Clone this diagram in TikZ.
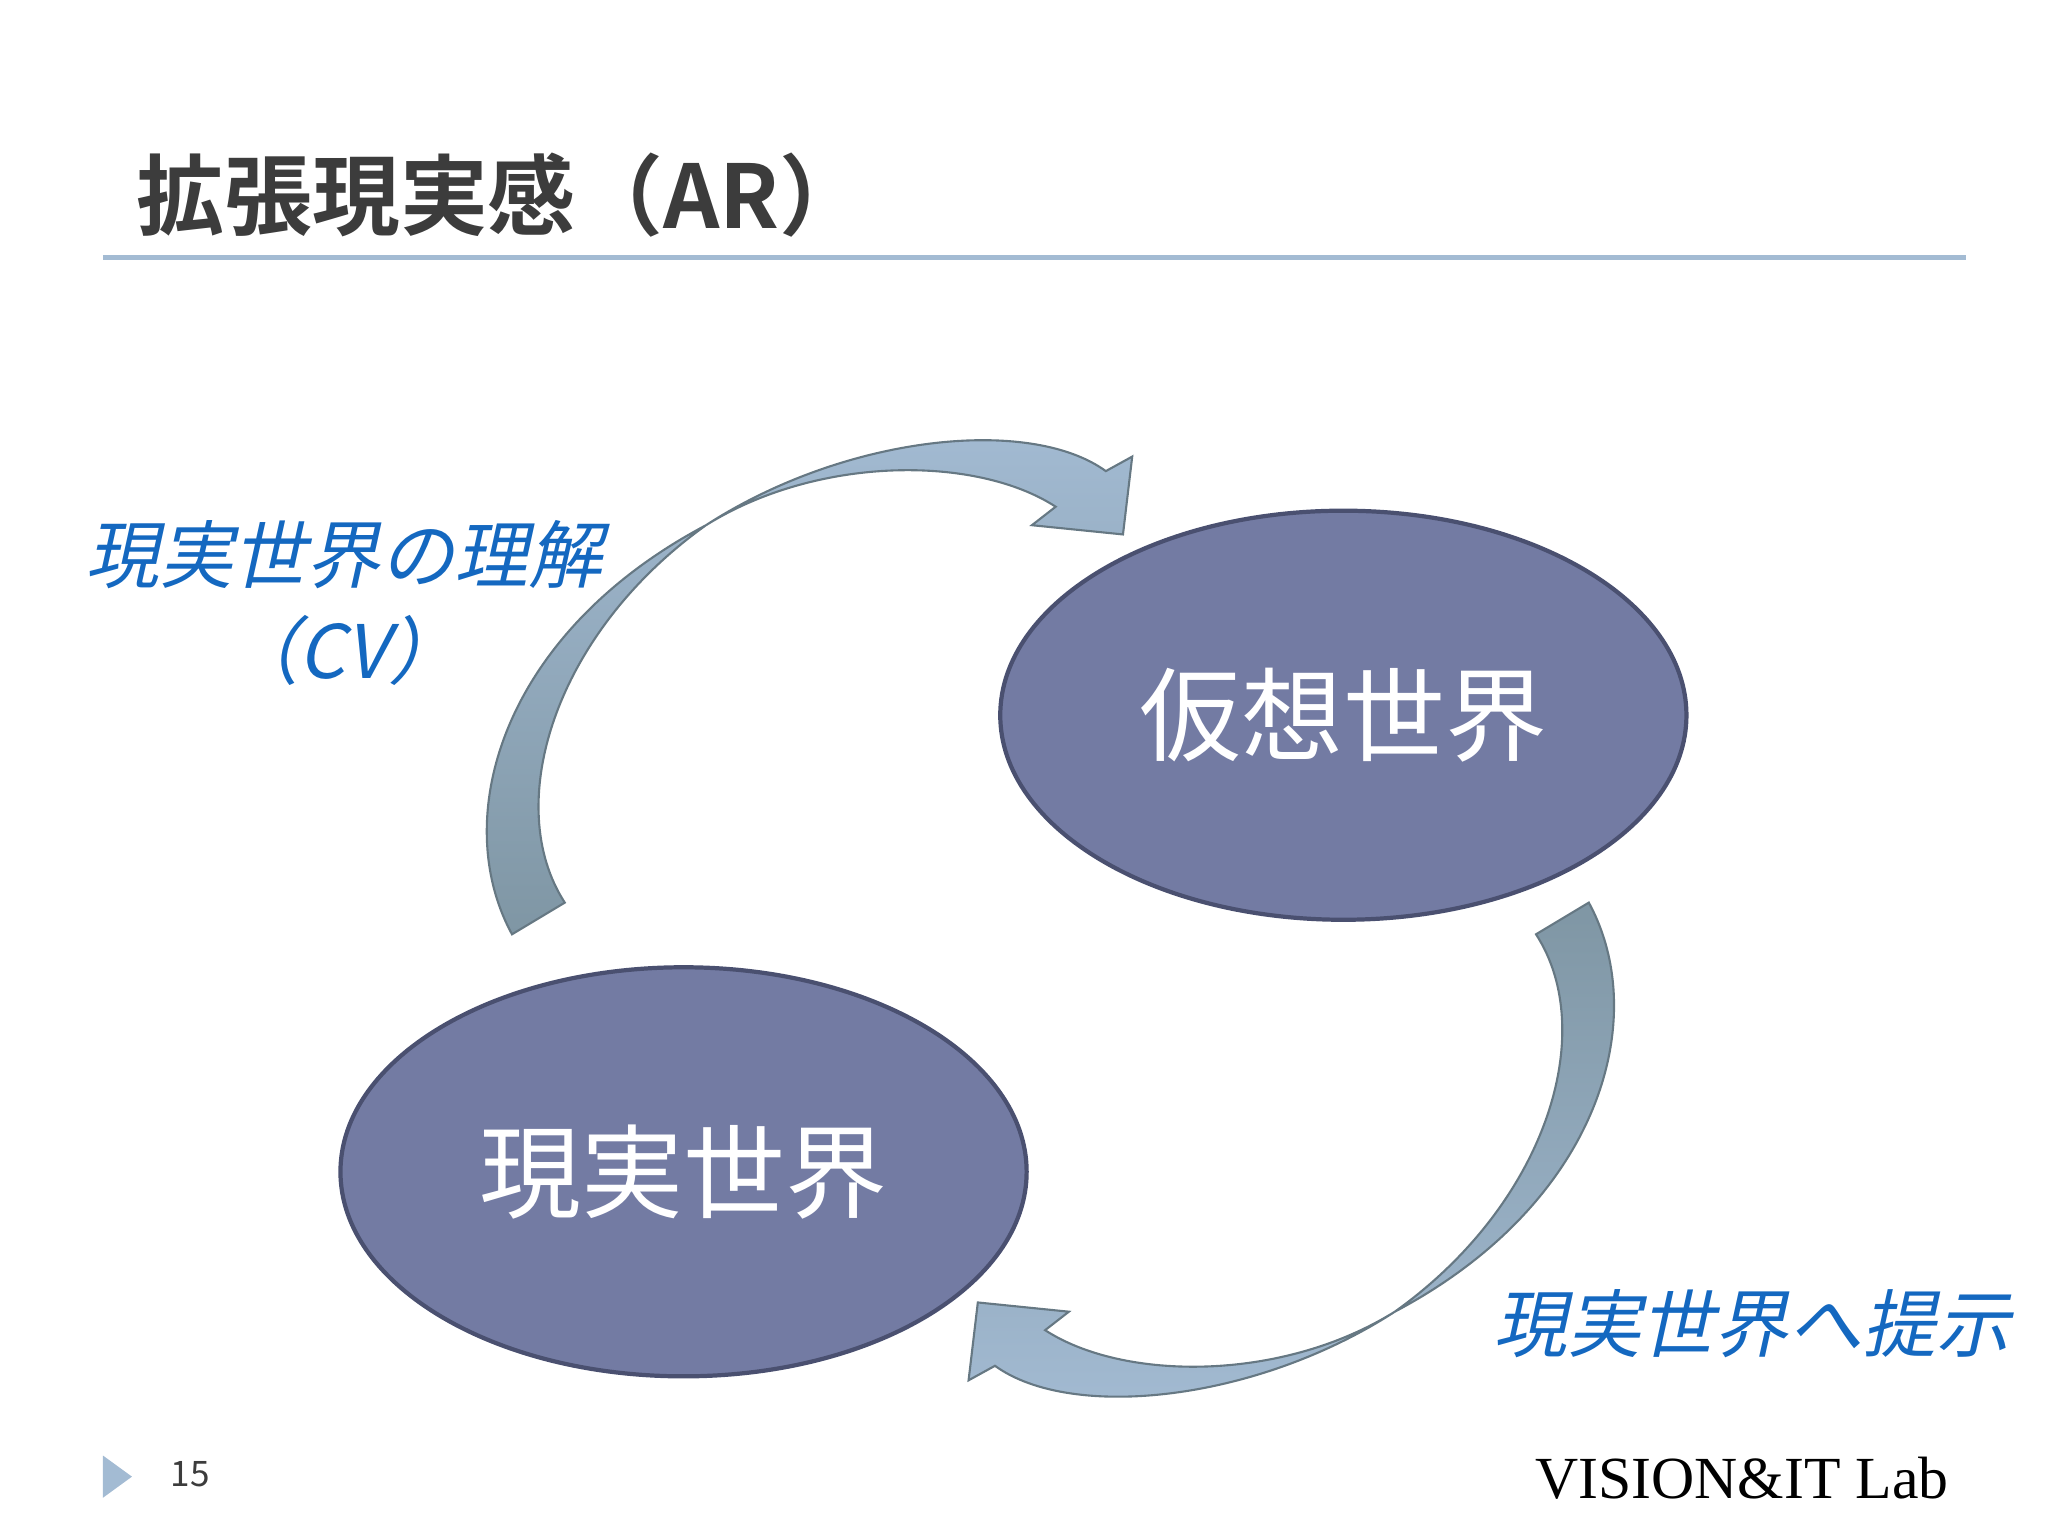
\documentclass[tikz,border=0pt]{standalone}
\usepackage{fontspec}
\newfontfamily\cjk{Noto Sans CJK JP}
\newfontfamily\cjkb{Noto Sans CJK JP Bold}
\newfontfamily\ser{Liberation Serif}
\definecolor{ellf}{HTML}{737BA3}
\definecolor{elld}{HTML}{4A5070}
\definecolor{arrd}{HTML}{7F96A4}
\definecolor{arrl}{HTML}{A3BBD3}
\definecolor{lbl}{HTML}{1468C0}
\definecolor{ttl}{HTML}{3C3C3C}
\tikzset{
 world/.style={ellipse,draw=elld,line width=1.2pt,fill=ellf,minimum width=520*0.0132cm,minimum height=310*0.0132cm,text=white,font=\cjk\fontsize{29}{32}\selectfont},
 lab/.style={text=lbl,font=\cjk\fontsize{21}{24}\selectfont,xslant=0.22,anchor=center},
 ribbon/.style={draw=arrd!80!black,line width=0.6pt}
}
\usetikzlibrary{shapes.geometric}
\begin{document}
\begin{tikzpicture}[x=0.0132cm,y=-0.0132cm]
\useasboundingbox (0,0) rectangle (1552,1164);
\node[anchor=west,text=ttl,font=\cjkb\fontsize{25}{28}\selectfont] (title) at (94,148) {拡張現実感（AR）};
\draw[color=arrl,line width=1.5pt] (78,195) coordinate (l1) -- (1490,195) coordinate (l2);
\node[world] (v) at (1018,542) {仮想世界};
\node[world] (r) at (518,888) {現実世界};
\path[ribbon,top color=arrl,bottom color=arrd] (388,708) .. controls (340,620) and (380,480) .. (535,398) .. controls (640,330) and (780,315) .. (838,357) -- (858,346) -- (851,405) -- (782,398) -- (800,384) .. controls (740,345) and (620,345) .. (535,398) .. controls (420,480) and (380,610) .. (428,684) -- cycle;
\begin{scope}[rotate around={180:(796,696)}]
\path[ribbon,top color=arrd,bottom color=arrl] (388,708) .. controls (340,620) and (380,480) .. (535,398) .. controls (640,330) and (780,315) .. (838,357) -- (858,346) -- (851,405) -- (782,398) -- (800,384) .. controls (740,345) and (620,345) .. (535,398) .. controls (420,480) and (380,610) .. (428,684) -- cycle;
\end{scope}
\node[lab] (a) at (265,420) {現実世界の理解};
\node[lab] (b) at (265,493) {（CV）};
\node[lab] (c) at (1332,1003) {現実世界へ提示};
\fill[color=arrl] (78,1103) -- (100,1119) -- (78,1135) -- cycle;
\node[anchor=west,text=ttl,font=\cjk\fontsize{10}{12}\selectfont] (pg) at (120,1117) {15};
\node[anchor=east,text=black,font=\ser\fontsize{17}{20}\selectfont] (lg) at (1486,1120) {VISION\&IT Lab};
\end{tikzpicture}
\end{document}
